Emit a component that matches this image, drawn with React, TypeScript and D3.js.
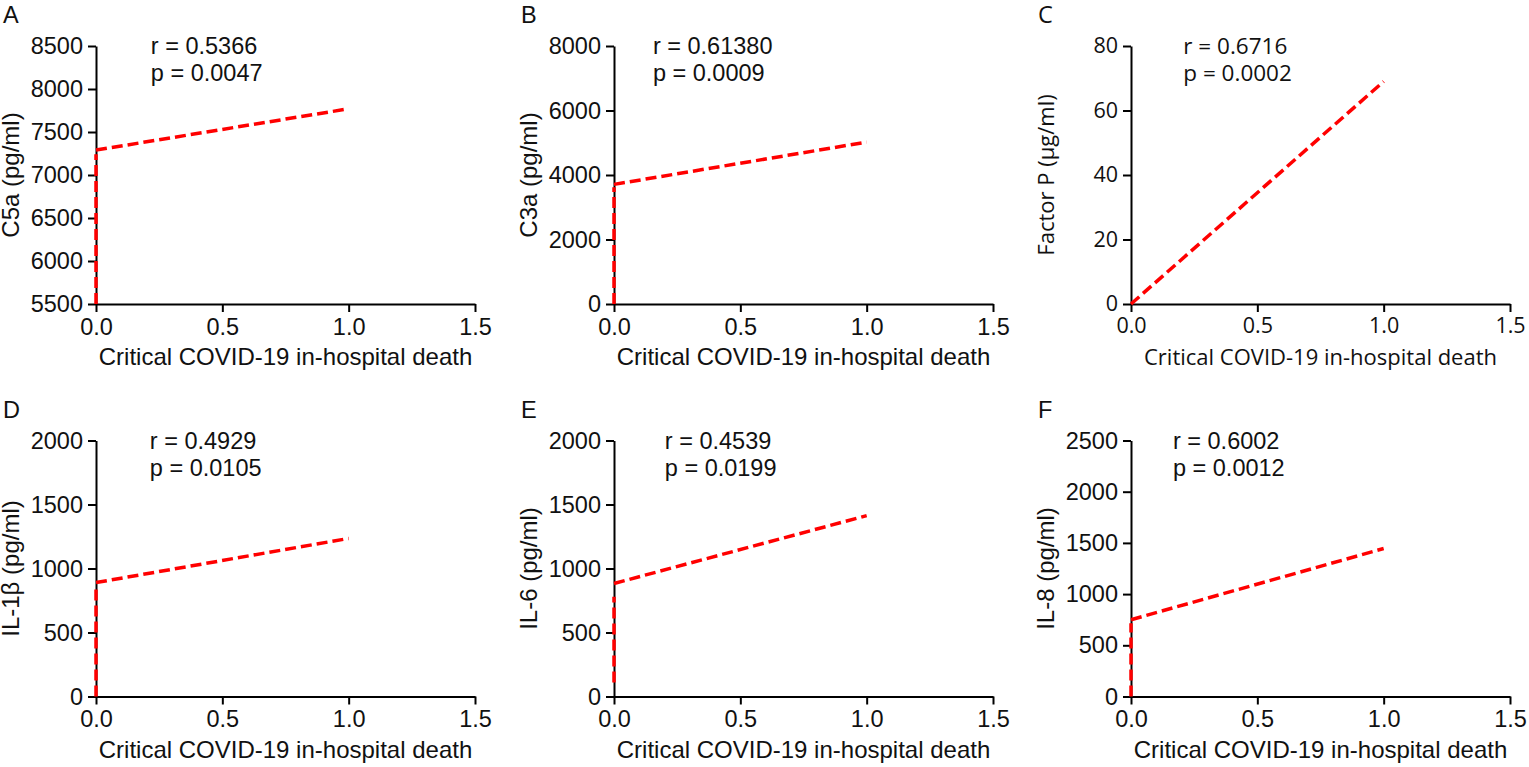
import { useEffect, useRef } from "react";
import * as d3 from "d3";

// panel data
const panelLabels = ["A", "B", "C", "D", "E", "F"];
const yTitles = ["C5a (pg/ml)", "C3a (pg/ml)", "Factor P (µg/ml)", "IL-1β (pg/ml)", "IL-6 (pg/ml)", "IL-8 (pg/ml)"];
const yMins = [5500, 0, 0, 0, 0, 0];
const yMaxs = [8500, 8000, 80, 2000, 2000, 2500];
const yTickSteps = [500, 2000, 20, 500, 500, 500];
const xTicks = [0, 0.5, 1.0, 1.5];
const xTitle = "Critical COVID-19 in-hospital death";
const rValues = ["0.5366", "0.61380", "0.6716", "0.4929", "0.4539", "0.6002"];
const pValues = ["0.0047", "0.0009", "0.0002", "0.0105", "0.0199", "0.0012"];
// fitted line: y at x = 0 and at x = 1
const fitAt0 = [7290, 3710, 0, 890, 883, 750];
const fitAt1 = [7770, 5020, 69, 1235, 1413, 1445];
// vertical dashed piece at x = 0 (low, high); null = none
const vertLow = [5500, 0, null, 0, 110, 0];
const vertHigh = [7240, 3620, null, 855, 780, 715];
// where the r / p text sits, in x data units
const statX = [0.217, 0.154, 0.207, 0.213, 0.201, 0.166];

const colX = [96, 614, 1131];
const rowTop = [46, 440.5];
const rowBottom = [304, 696.5];
const plotW = 379;

const App = () => {
  const svgRef = useRef<SVGSVGElement | null>(null);

  useEffect(() => {
    if (!svgRef.current) return;
    const root = d3.select(svgRef.current);
    root.selectAll("*").remove();

    panelLabels.forEach((lab, i) => {
      const col = i % 3;
      const row = Math.floor(i / 3);
      const left = colX[col];
      const top = rowTop[row];
      const bottom = rowBottom[row];
      const isC = i === 2;
      const font = isC ? "'Open Sans', sans-serif" : "'Liberation Sans', Arial, sans-serif";
      const fs = isC ? 21.5 : 23.5;
      const titleFs = isC ? 22 : 24;

      const x = d3.scaleLinear().domain([0, 1.5]).range([left, left + plotW]);
      const y = d3.scaleLinear().domain([yMins[i], yMaxs[i]]).range([bottom, top]);

      const g = root.append("g").attr("font-family", font).attr("fill", "#111");

      // 面板字母
      g.append("text")
        .attr("x", left - 93)
        .attr("y", top - 23)
        .attr("font-size", 23.5)
        .text(lab);

      // y軸
      const yAxis = g
        .append("g")
        .attr("transform", `translate(${left},0)`)
        .call(
          d3
            .axisLeft(y)
            .tickValues(d3.range(yMins[i], yMaxs[i] + 1, yTickSteps[i]))
            .tickFormat(d3.format("d"))
            .tickSize(8)
            .tickSizeOuter(0)
            .tickPadding(5)
        );

      // x軸
      const xAxis = g
        .append("g")
        .attr("transform", `translate(0,${bottom})`)
        .call(
          d3
            .axisBottom(x)
            .tickValues(xTicks)
            .tickFormat(d3.format(".1f"))
            .tickSize(8)
            .tickSizeOuter(0)
            .tickPadding(6)
        );

      [yAxis, xAxis].forEach((ax) => {
        ax.attr("font-family", font).attr("font-size", fs);
        ax.select(".domain").attr("stroke", "#000").attr("stroke-width", 2);
        ax.selectAll(".tick line").attr("stroke", "#000").attr("stroke-width", 2);
        ax.selectAll(".tick text").attr("fill", "#111");
      });

      // 軸標題
      g.append("text")
        .attr("x", (left + left + plotW) / 2)
        .attr("y", bottom + 61)
        .attr("text-anchor", "middle")
        .attr("font-size", titleFs)
        .text(xTitle);

      g.append("text")
        .attr("transform", `translate(${left - 77},${(top + bottom) / 2}) rotate(-90)`)
        .attr("text-anchor", "middle")
        .attr("font-size", titleFs)
        .text(yTitles[i]);

      // r / p
      const sx = x(statX[i]);
      g.append("text")
        .attr("x", sx)
        .attr("y", top + 8)
        .attr("font-size", isC ? 22.5 : 23.5)
        .text(`r = ${rValues[i]}`);
      g.append("text")
        .attr("x", sx)
        .attr("y", top + 35)
        .attr("font-size", isC ? 22.5 : 23.5)
        .text(`p = ${pValues[i]}`);

      // 折線 (虛線)
      const line = d3
        .line<[number, number]>()
        .x((d) => x(d[0]))
        .y((d) => y(d[1]));

      const lo = vertLow[i];
      const hi = vertHigh[i];
      if (lo !== null && hi !== null) {
        g.append("path")
          .datum([
            [0, lo],
            [0, hi],
          ] as [number, number][])
          .attr("fill", "none")
          .attr("stroke", "#ff0000")
          .attr("stroke-width", 3.5)
          .attr("stroke-dasharray", "11,5")
          .attr("d", line);
      }

      g.append("path")
        .datum([
          [0, fitAt0[i]],
          [1, fitAt1[i]],
        ] as [number, number][])
        .attr("fill", "none")
        .attr("stroke", "#ff0000")
        .attr("stroke-width", 3.5)
        .attr("stroke-dasharray", "11,5")
        .attr("d", line);
    });
  }, []);

  return (
    <svg
      ref={svgRef}
      width={1529}
      height={767}
      style={{ position: "absolute", left: 0, top: 0, background: "#fff" }}
    ></svg>
  );
};

export default App;
